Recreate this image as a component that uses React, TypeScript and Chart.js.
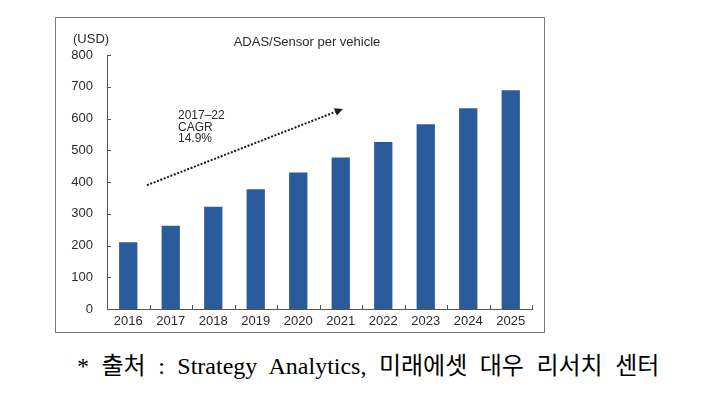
import React, { useEffect, useRef } from "react";
import { Chart, registerables } from "chart.js";

Chart.register(...registerables);

const categories = ["2016", "2017", "2018", "2019", "2020", "2021", "2022", "2023", "2024", "2025"];
const values = [210, 262, 322, 377, 430, 477, 526, 582, 632, 689];
const yTicks = [0, 100, 200, 300, 400, 500, 600, 700, 800];
const chartTitle = "ADAS/Sensor per vehicle";
const unitLabel = "(USD)";
const cagrLines = ["2017\u201322", "CAGR", "14.9%"];
const trendArrowX = [0.44, 5.05];
const trendArrowY = [390, 630];
const caption = "* 출처 : Strategy Analytics, 미래에셋 대우 리서치 센터";

const FONT = "'Liberation Sans', Arial, sans-serif";
const TEXT = "#2b2b2b";

const decorPlugin = {
  id: "decor",
  afterDraw(chart: any) {
    const ctx = chart.ctx as CanvasRenderingContext2D;
    const xs = chart.scales.x;
    const ys = chart.scales.y;
    ctx.save();
    // frame
    ctx.strokeStyle = "#7a7a7a";
    ctx.lineWidth = 1;
    ctx.strokeRect(0.5, 0.5, chart.width - 2, chart.height - 2);
    // inward ticks
    ctx.strokeStyle = "#555";
    ctx.beginPath();
    yTicks.forEach((v) => {
      const py = Math.round(ys.getPixelForValue(v)) + 0.5;
      ctx.moveTo(xs.left, py);
      ctx.lineTo(xs.left + 4, py);
    });
    const n = categories.length;
    for (let i = 1; i <= n; i++) {
      const px = Math.round(xs.left + (i * (xs.right - xs.left)) / n) + 0.5;
      ctx.moveTo(px, ys.bottom);
      ctx.lineTo(px, ys.bottom - 4);
    }
    ctx.stroke();
    // texts
    ctx.fillStyle = TEXT;
    ctx.textBaseline = "middle";
    ctx.font = `13px ${FONT}`;
    ctx.textAlign = "left";
    ctx.fillText(unitLabel, 18, 22);
    ctx.textAlign = "center";
    ctx.fillText(chartTitle, 252, 25);
    ctx.font = `12px ${FONT}`;
    ctx.textAlign = "left";
    cagrLines.forEach((t, i) => ctx.fillText(t, 123, 99 + i * 11.3));
    // trend arrow
    const x0 = xs.getPixelForValue(trendArrowX[0]);
    const y0 = ys.getPixelForValue(trendArrowY[0]);
    const x1 = xs.getPixelForValue(trendArrowX[1]);
    const y1 = ys.getPixelForValue(trendArrowY[1]);
    const ang = Math.atan2(y1 - y0, x1 - x0);
    const hl = 8;
    const bx = x1 - hl * Math.cos(ang);
    const by = y1 - hl * Math.sin(ang);
    ctx.strokeStyle = "#1a1a1a";
    ctx.lineWidth = 2;
    ctx.setLineDash([2, 1.6]);
    ctx.beginPath();
    ctx.moveTo(x0, y0);
    ctx.lineTo(bx, by);
    ctx.stroke();
    ctx.setLineDash([]);
    ctx.fillStyle = "#1a1a1a";
    ctx.beginPath();
    ctx.moveTo(x1, y1);
    ctx.lineTo(bx + 4 * Math.sin(ang), by - 4 * Math.cos(ang));
    ctx.lineTo(bx - 4 * Math.sin(ang), by + 4 * Math.cos(ang));
    ctx.closePath();
    ctx.fill();
    ctx.restore();
  },
};

export default function App() {
  const ref = useRef<HTMLCanvasElement>(null);
  useEffect(() => {
    if (!ref.current) return;
    const chart = new Chart(ref.current, {
      type: "bar",
      data: {
        labels: categories,
        datasets: [
          {
            data: values,
            backgroundColor: "#2a5b9c",
            barPercentage: 0.43,
            categoryPercentage: 1,
          },
        ],
      },
      options: {
        responsive: false,
        animation: false,
        layout: { padding: { top: 38, right: 14, left: 0, bottom: 0 } },
        plugins: { legend: { display: false }, tooltip: { enabled: false }, title: { display: false } },
        scales: {
          x: {
            grid: { display: false, drawTicks: false },
            border: { display: true, color: "#555", width: 1 },
            ticks: { color: TEXT, font: { family: FONT, size: 13 }, padding: 5, maxRotation: 0 },
            afterFit: (s: any) => {
              s.height = 25;
            },
          },
          y: {
            min: 0,
            max: 800,
            grid: { display: false, drawTicks: false },
            border: { display: true, color: "#555", width: 1 },
            ticks: { color: TEXT, font: { family: FONT, size: 13 }, padding: 14, stepSize: 100 },
            afterBuildTicks: (s: any) => {
              s.ticks = yTicks.map((v) => ({ value: v }));
            },
            afterFit: (s: any) => {
              s.width = 52;
            },
          },
        },
      },
      plugins: [decorPlugin],
    });
    return () => chart.destroy();
  }, []);
  return (
    <div style={{ position: "fixed", left: 0, top: 0, width: 705, height: 410, background: "#fff" }}>
      <canvas ref={ref} width={491} height={317} style={{ position: "absolute", left: 55, top: 17 }} />
      <div
        style={{
          position: "absolute",
          left: 77,
          top: 353,
          fontFamily: "'Liberation Serif', 'Noto Sans CJK KR', serif",
          fontSize: 24,
          lineHeight: "26px",
          wordSpacing: 6.5,
          color: "#000",
          whiteSpace: "pre",
        }}
      >
        {caption}
      </div>
    </div>
  );
}
